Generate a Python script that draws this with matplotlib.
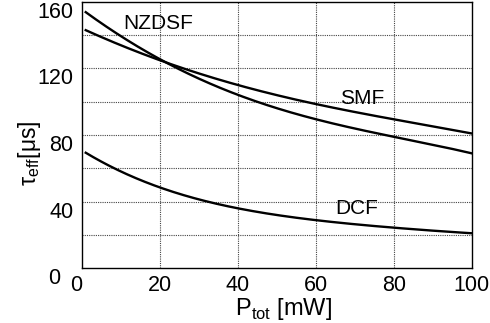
import matplotlib
matplotlib.use("Agg")
import matplotlib.pyplot as plt
import matplotlib.transforms as mtransforms
import numpy as np

plt.rcParams['font.family'] = ['Liberation Sans', 'DejaVu Sans']

p_tot = [1, 10, 20, 30, 40, 50, 60, 70, 80, 90, 100]
nzdsf = [154, 139, 126, 114, 104, 96, 89.5, 84, 79, 74, 69]
smf = [143, 134, 125, 117, 110, 104, 98.5, 94, 89.5, 85, 81]
dcf = [69, 59, 48, 41, 36, 32, 29, 26.5, 24, 22.5, 21]

curve_labels = ["NZDSF", "SMF", "DCF"]
label_pos = [(19.5, 147), (72, 102), (70.5, 36)]

xticks = [0, 20, 40, 60, 80, 100]
yticks = [0, 40, 80, 120, 160]
ygrid = [20, 40, 60, 80, 100, 120, 140]

fig = plt.figure(figsize=(4.9, 3.23), dpi=100)
ax = fig.add_axes([0.167, 0.170, 0.796, 0.824])

for ys in (nzdsf, smf, dcf):
    xs = np.linspace(p_tot[0], p_tot[-1], 300)
    c = np.polyfit(p_tot, ys, 4)
    ax.plot(xs, np.polyval(c, xs), color='black', lw=1.7)

for lab, (x, y) in zip(curve_labels, label_pos):
    ax.text(x, y, lab, fontsize=15, ha='center', va='center')

ax.set_xlim(0, 100)
ax.set_ylim(0, 160)
ax.set_xticks(xticks)
ax.set_yticks(yticks)
ax.tick_params(which='both', length=0, labelsize=15.5)
ax.tick_params(axis='x', pad=5)
ax.tick_params(axis='y', pad=6)
for x in xticks[1:-1]:
    ax.axvline(x, color='#444444', ls=(0, (1, 1)), lw=0.8, zorder=0)
for y in ygrid:
    ax.axhline(y, color='#444444', ls=(0, (1, 1)), lw=0.8, zorder=0)
for s in ax.spines.values():
    s.set_linewidth(1.0)

# y tick labels sit slightly below their grid lines; "0" labels offset
down = mtransforms.ScaledTranslation(0, -0.08, fig.dpi_scale_trans)
ylabs = ax.get_yticklabels()
for i, t in enumerate(ylabs):
    tr = t.get_transform() + down
    if i == 0:
        tr = tr + mtransforms.ScaledTranslation(-0.13, 0, fig.dpi_scale_trans)
    t.set_transform(tr)
xlabs = ax.get_xticklabels()
xlabs[0].set_transform(xlabs[0].get_transform() + mtransforms.ScaledTranslation(-0.06, 0, fig.dpi_scale_trans))

ax.set_xlabel(r"P$_{\mathregular{tot}}$ [mW]", fontsize=17)
ax.xaxis.set_label_coords(0.516, -0.103)
ax.set_ylabel(r"$\mathregular{\tau}_{\mathregular{eff}}$[$\mathregular{\mu}$s]", fontsize=16.5)
ax.yaxis.set_label_coords(-0.10, 0.43)

fig.savefig("out.png", dpi=100)
